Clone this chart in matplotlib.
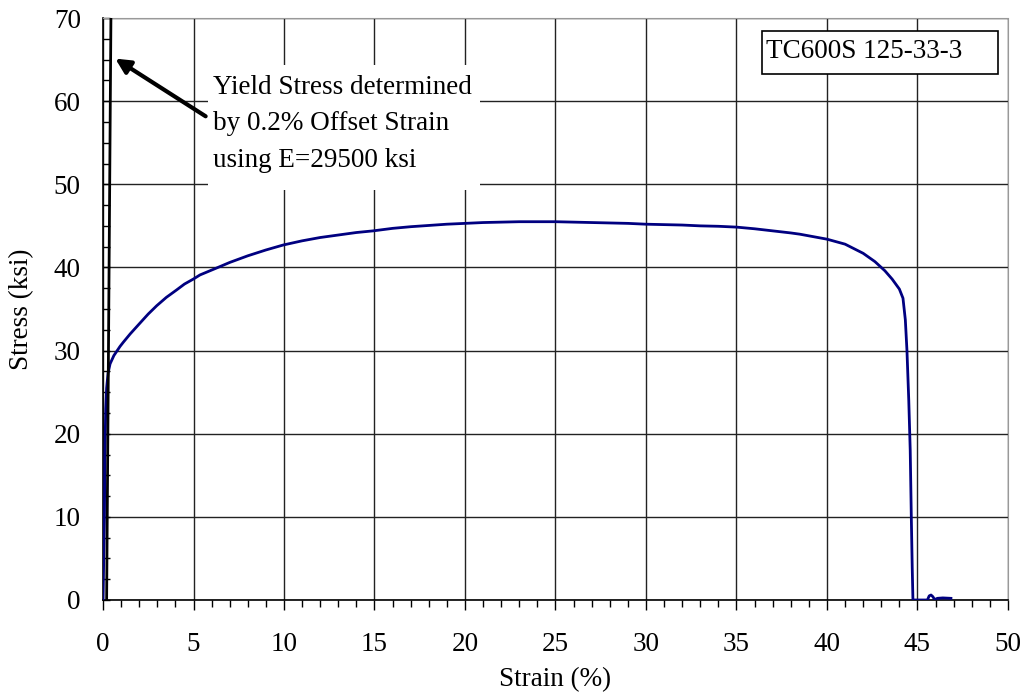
import numpy as np
import matplotlib
matplotlib.use('Agg')
import matplotlib.pyplot as plt
from matplotlib.patches import Rectangle

plt.rcParams['font.family'] = ['Liberation Serif', 'DejaVu Serif']
plt.rcParams['font.size'] = 19.5

# measured stress-strain curve (strain in %, stress in ksi)
strain = [0, 0.02, 0.08, 0.10, 0.15, 0.20, 0.28, 0.39, 0.6, 0.94, 1.12, 1.5, 2.04, 2.5,
          2.97, 3.5, 4.07, 4.5, 4.99, 5.36, 5.91, 6.46, 7.0, 8.0, 9.0, 9.96, 11, 12, 13,
          14, 14.93, 16, 17, 18, 18.99, 20, 21, 22, 23, 24, 25, 26, 27, 28, 29, 30, 31,
          32, 33, 34, 35, 36, 37, 38, 38.5, 39, 40, 41, 42, 42.65, 43.2, 43.6, 44.0,
          44.2, 44.33, 44.42, 44.52, 44.6, 44.66, 44.71, 44.75,
          45.55, 45.65, 45.75, 45.85, 45.95, 46.1, 46.4, 46.85]
stress = [0, 2.5, 10, 17, 23, 25.5, 27.3, 28.4, 29.4, 30.5, 31.0, 32.0, 33.3, 34.4,
          35.4, 36.4, 37.3, 38.0, 38.6, 39.1, 39.6, 40.1, 40.6, 41.4, 42.1, 42.7, 43.2,
          43.6, 43.9, 44.2, 44.4, 44.7, 44.9, 45.05, 45.2, 45.3, 45.4, 45.45, 45.5,
          45.5, 45.5, 45.45, 45.4, 45.35, 45.3, 45.2, 45.15, 45.1, 45.0, 44.95, 44.85,
          44.65, 44.4, 44.15, 44.0, 43.8, 43.4, 42.8, 41.7, 40.7, 39.6, 38.6, 37.4,
          36.3, 33.7, 30, 24, 18, 10, 4, 0,
          0, 0.5, 0.6, 0.4, 0.05, 0.2, 0.25, 0.2]

# 0.2% offset line, E = 29500 ksi
E = 29500.0
offset_stress = np.array([0, 70])
offset_strain = 0.2 + offset_stress / E * 100

fig = plt.figure(figsize=(10.28, 6.93), dpi=100)
ax = fig.add_axes([0.1002, 0.1342, 0.9805 - 0.1002, 0.974 - 0.1342])

ax.plot(strain, stress, color='#000080', lw=2, zorder=3)
ax.plot(offset_strain, offset_stress, color='black', lw=2, zorder=3)

ax.set_xlim(0, 50)
ax.set_ylim(0, 70)
ax.set_xticks(np.arange(0, 51, 5))
ax.set_yticks(np.arange(0, 71, 10))
ax.set_xticks(np.arange(0, 51, 1), minor=True)
ax.set_yticks(np.arange(0, 71, 2.5), minor=True)
ax.grid(True, which='major', color='#222222', lw=1)

ax.tick_params(axis='x', which='major', direction='out', length=7, width=1, pad=16)
ax.tick_params(axis='x', which='minor', direction='out', length=5, width=1)
ax.tick_params(axis='y', which='both', direction='in', length=5, width=1, pad=16)

for s in ['top', 'right']:
    ax.spines[s].set_color('#999999')
    ax.spines[s].set_linestyle((0, (1, 1)))
for s in ['left', 'bottom']:
    ax.spines[s].set_color('black')
    ax.spines[s].set_linewidth(1.2)

ax.set_xlabel('Strain (%)', labelpad=7)
ax.set_ylabel('Stress (ksi)', labelpad=14)

# white area behind the annotation text
ax.add_patch(Rectangle((0.116, 0.7045), 0.3006, 0.2148, transform=ax.transAxes,
                       facecolor='white', edgecolor='none', zorder=2))
ax.text(6.08, 63.2, 'Yield Stress determined\nby 0.2% Offset Strain\nusing E=29500 ksi',
        ha='left', va='top', linespacing=1.62, zorder=4)
ax.annotate('', xy=(0.55, 65.3), xytext=(5.8, 58.0),
            arrowprops=dict(arrowstyle='-|>', lw=3, color='black', mutation_scale=22),
            zorder=4)

# specimen label box
ax.add_patch(Rectangle((0.728, 0.9038), 0.2608, 0.0739, transform=ax.transAxes,
                       facecolor='white', edgecolor='black', lw=1.2, zorder=4))
ax.text(0.7326, 0.9313, 'TC600S 125-33-3', transform=ax.transAxes,
        ha='left', va='baseline', zorder=5)

fig.savefig('out.png', dpi=100)
